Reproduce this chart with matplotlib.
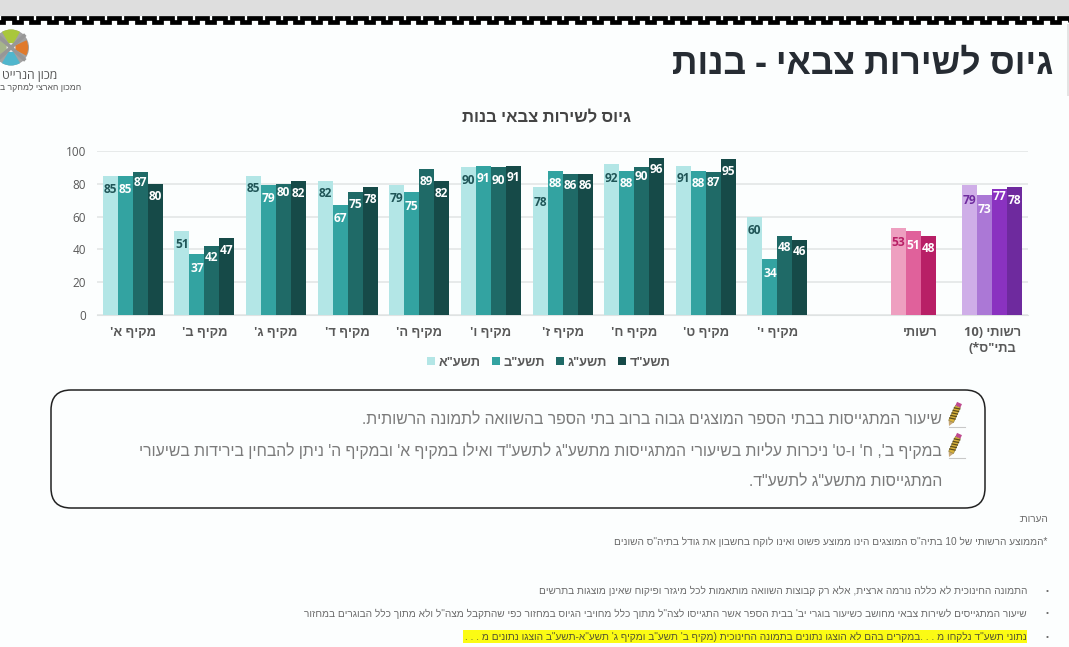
import numpy as np
import matplotlib
matplotlib.use("Agg")
import matplotlib.pyplot as plt
from matplotlib.patches import FancyBboxPatch, Polygon, Rectangle, Wedge, Circle, Patch
import re

FONT = ['Open Sans', 'Liberation Sans', 'DejaVu Sans']
NOTE_FONT = ['Liberation Sans', 'DejaVu Sans']
plt.rcParams['font.family'] = FONT

categories = ["מקיף א'", "מקיף ב'", "מקיף ג'", "מקיף ד'", "מקיף ה'", "מקיף ו'", "מקיף ז'",
              "מקיף ח'", "מקיף ט'", "מקיף י'", "", "רשותי", 'רשותי (10\nבתי"ס*)']
series_names = ['תשע"א', 'תשע"ב', 'תשע"ג', 'תשע"ד']
nan = float('nan')
y_a = [85, 51, 85, 82, 79, 90, 78, 92, 91, 60, nan, 53, 79]
y_b = [85, 37, 79, 67, 75, 91, 88, 88, 88, 34, nan, 51, 73]
y_c = [87, 42, 80, 75, 89, 90, 86, 90, 87, 48, nan, 48, 77]
y_d = [80, 47, 82, 78, 82, 91, 86, 96, 95, 46, nan, nan, 78]
series = [y_a, y_b, y_c, y_d]

slide_title = 'גיוס לשירות צבאי - בנות'
chart_title = 'גיוס לשירות צבאי בנות'
box_lines = ['שיעור המתגייסות בבתי הספר המוצגים גבוה ברוב בתי הספר בהשוואה לתמונה הרשותית.',
             "במקיף ב', ח' ו-ט' ניכרות עליות בשיעורי המתגייסות מתשע\"ג לתשע\"ד ואילו במקיף א' ובמקיף ה' ניתן להבחין בירידות בשיעורי",
             'המתגייסות מתשע"ג לתשע"ד.']
note_head = 'הערות:'
note_star = '*הממוצע הרשותי של 10 בתיה"ס המוצגים הינו ממוצע פשוט ואינו לוקח בחשבון את גודל בתיה"ס השונים'
note_bullets = ['התמונה החינוכית לא כללה נורמה ארצית, אלא רק קבוצות השוואה מותאמות לכל מיגזר ופיקוח שאינן מוצגות בתרשים',
                "שיעור המתגייסים לשירות צבאי מחושב כשיעור בוגרי יב' בבית הספר אשר התגייסו לצה\"ל מתוך כלל מחויבי הגיוס במחזור כפי שהתקבל מצה\"ל ולא מתוך כלל הבוגרים במחזור",
                "נתוני תשע\"ד נלקחו מ . . .במקרים בהם לא הוצגו נתונים בתמונה החינוכית (מקיף ב' תשע\"ב ומקיף ג' תשע\"א-תשע\"ב הוצגו נתונים מ . . ."]
# only the part of the logo wording that the reference shows
logo_1 = 'מכון הנרייט'
logo_2 = 'המכון הארצי למחקר ב'

# vertical distance, in pixels, from the bar top to the centre of its label
label_drop = [[14, 14, 10, 13], [13, 14, 11, 13], [13, 13, 9, 13], [13, 13, 12, 12], [13, 14, 12, 13],
              [13, 13, 13, 12], [15, 13, 12, 12], [14, 13, 9, 12], [13, 13, 10, 12], [14, 14, 11, 12],
              [0, 0, 0, 0], [14, 14, 12, 0], [15, 14, 8, 13]]

teal = ['#b3e6e6', '#33a3a1', '#1f6a67', '#164a48']
pink = ['#ee9fc0', '#e0619b', '#b81f66', '#b81f66']
purple = ['#cfaee8', '#ab78d6', '#8a32c0', '#6e2a9e']
first_label = {'teal': '#1f5557', 'pink': '#b81f66', 'purple': '#6e2a9e'}
GRAY = '#595959'
BG = '#fcfefe'


def vis(s):
    """matplotlib has no bidi layout: turn logical Hebrew into visual order."""
    out = []
    for line in s.split('\n'):
        mirrored = line.translate(str.maketrans('()', ')('))
        rev = mirrored[::-1]
        rev = re.sub(r'[0-9]+', lambda m: m.group(0)[::-1], rev)
        out.append(rev)
    return '\n'.join(out)


W, H = 1069, 647
fig = plt.figure(figsize=(W / 100, H / 100), dpi=100, facecolor=BG)

# page layer in pixel coordinates
pg = fig.add_axes([0, 0, 1, 1], zorder=0)
pg.set_xlim(0, W)
pg.set_ylim(H, 0)
pg.axis('off')

pg.add_patch(Rectangle((0, 0), W, 15.5, fc='#dedede', ec='none'))
xs, ys = [], []
period = 17.6
for i in range(-1, int(W / period) + 2):
    x0 = i * period + 3
    xs += [x0, x0 + period * .6, x0 + period * .6, x0 + period, x0 + period]
    ys += [17.5, 17.5, 22, 22, 17.5]
pg.plot(xs, ys, color='black', lw=3.4, solid_joinstyle='miter', solid_capstyle='butt')
pg.add_patch(Rectangle((1066.5, 24), 2, 72, fc='#e4e4e4', ec='none'))

# logo
cx, cy, r = 11, 47.5, 18
pg.add_patch(Circle((cx, cy), r, fc='#a2a2a2', ec='none'))
for t1, t2, c, rr in [(60, 120, '#a9c73c', 1), (-28, 25, '#e07a2c', .95), (-120, -60, '#4fb6cd', 1), (150, 210, '#a6b58a', .9)]:
    pg.add_patch(Wedge((cx, cy), r * rr, -t2, -t1, fc=c, ec='none'))
for t in (42, 138, 222, 318):
    a = np.deg2rad(t)
    pg.plot([cx, cx + r * .97 * np.cos(a)], [cy, cy - r * .97 * np.sin(a)], color='#979797', lw=2.6)
pg.add_patch(Circle((cx, cy), 4.5, fc='#e8e8e8', ec='none'))
pg.text(57, 76, vis(logo_1), ha='right', va='center', fontsize=8.8, color='#555555', family=FONT)
pg.text(81, 88, vis(logo_2), ha='right', va='center', fontsize=6.2, color='#555555', family=NOTE_FONT)

pg.text(1053, 65.5, vis(slide_title), ha='right', va='center', fontsize=25.6, fontweight='bold',
        color='#262c33', family=FONT)

# call-out box
pg.add_patch(FancyBboxPatch((71, 410), 894, 78, boxstyle='round,pad=20,rounding_size=20',
                            fc='none', ec='#222222', lw=1.1))
for yy, t in zip((420, 451, 482), box_lines):
    pg.text(942, yy, vis(t), ha='right', va='center', fontsize=11.37, color='#7a7a7a', family=NOTE_FONT)


def pencil(dy):
    tip = np.array([949.0, 426.0 + dy])
    top = np.array([959.5, 403.0 + dy])
    d = top - tip
    n = np.array([d[1], -d[0]]) / np.hypot(*d) * 2.7
    p = lambda a, b: tip + d * a + n * b
    pg.add_patch(Polygon([p(0, 0), p(.2, 1), p(.2, -1)], fc='#c8a878', ec='none'))
    pg.add_patch(Polygon([p(.2, 1), p(.85, 1), p(.85, -1), p(.2, -1)], fc='#d9b23a', ec='#6b5a20', lw=.3))
    for k in np.arange(.3, .85, .11):
        pg.plot(*zip(p(k, 1), p(k + .05, -1)), color='#5c4d18', lw=.9)
    pg.add_patch(Polygon([p(.85, 1), p(1, 1), p(1, -1), p(.85, -1)], fc='#c04a90', ec='none'))
    pg.plot([949, 965], [426.5 + dy, 426.5 + dy], color='#c8c8c8', lw=.8)


pencil(0)
pencil(31)

# notes
NOTE_SIZE = 7.27
NOTE_COL = '#6a6a6a'
pg.text(1048, 519, vis(note_head), ha='right', va='center', fontsize=NOTE_SIZE, color=NOTE_COL, family=NOTE_FONT)
pg.text(1047, 542, vis(note_star), ha='right', va='center', fontsize=NOTE_SIZE, color=NOTE_COL, family=NOTE_FONT)
pg.add_patch(Rectangle((463, 630), 564, 13, fc='#fbfb14', ec='none'))
for yy, t, col in zip((591, 614, 637), note_bullets, (NOTE_COL, NOTE_COL, '#555530')):
    pg.text(1027, yy, vis(t), ha='right', va='center', fontsize=NOTE_SIZE, color=col, family=NOTE_FONT)
    pg.text(1047, yy, '•', ha='center', va='center', fontsize=6, color=NOTE_COL, family=NOTE_FONT)

# chart
L, R, T, B = 97, 1028, 151, 315
ax = fig.add_axes([L / W, 1 - B / H, (R - L) / W, (B - T) / H], zorder=1)
ax.patch.set_alpha(0)
x = np.arange(len(categories))
bw = 15 / ((R - L) / 13)
for s, vals in enumerate(series):
    off = (s - 1.5) * bw
    colors = [pink[s] if i == 11 else purple[s] if i == 12 else teal[s] for i in x]
    ax.bar(x + off, vals, width=bw, color=colors, linewidth=0, zorder=3)
    for i, v in enumerate(vals):
        if np.isnan(v):
            continue
        col = 'white'
        if s == 0:
            col = first_label['pink' if i == 11 else 'purple' if i == 12 else 'teal']
        ax.annotate(str(v), (x[i] + off, v), xytext=(0, -label_drop[i][s]), textcoords='offset pixels',
                    ha='center', va='center', fontsize=8.6, fontweight='bold', color=col, zorder=4)

ax.set_xlim(-.5, 12.5)
ax.set_ylim(0, 100)
ax.set_yticks(range(0, 101, 20))
ax.set_xticks(x[[i for i in x if categories[i]]])
ax.set_xticklabels([vis(c) for c in categories if c], fontsize=9.3, fontweight='bold', color=GRAY, linespacing=1.3)
ax.tick_params(axis='both', length=0)
ax.tick_params(axis='x', pad=8)
ax.tick_params(axis='y', pad=8, labelsize=8.5, labelcolor=GRAY)
ax.grid(axis='y', color='#e3e6e6', lw=1.2, zorder=0)
ax.set_axisbelow(True)
for k in ('top', 'right', 'left'):
    ax.spines[k].set_visible(False)
ax.spines['bottom'].set_color('#dfe3e3')
ax.set_title(vis(chart_title), x=(547 - L) / (R - L), y=1, pad=21, fontsize=12, fontweight='bold', color='#444444')

handles = [Patch(fc=teal[i], ec='none') for i in range(4)]
ax.legend(handles, [vis(n) for n in series_names], ncol=4, frameon=False, loc='center',
          bbox_to_anchor=(549 / W, 1 - 362 / H), bbox_transform=fig.transFigure,
          prop={'size': 9.2, 'weight': 'bold'}, labelcolor=GRAY, handlelength=.63, handleheight=.63,
          handletextpad=.3, columnspacing=.85)

fig.savefig('out.png', dpi=100, facecolor=BG)
